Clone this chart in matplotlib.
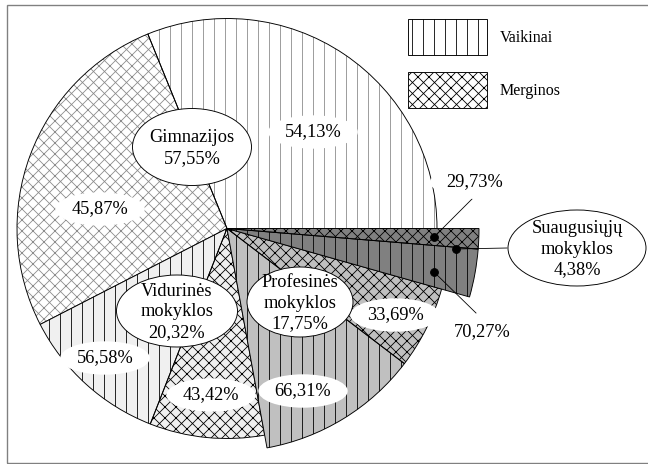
import matplotlib
matplotlib.use("Agg")
import matplotlib.pyplot as plt
from matplotlib.patches import Ellipse, Rectangle, Patch

# ---- data ----
categories = ["Gimnazijos", "Vidurinės mokyklos", "Profesinės mokyklos", "Suaugusiųjų mokyklos"]
category_labels = ["Gimnazijos", "Vidurinės\nmokyklos", "Profesinės\nmokyklos", "Suaugusiųjų\nmokyklos"]
category_share = [57.55, 20.32, 17.75, 4.38]
vaikinai_share = [54.13, 56.58, 66.31, 70.27]
merginos_share = [45.87, 43.42, 33.69, 29.73]
series_names = ["Vaikinai", "Merginos"]


def fmt(v):
    return f"{v:.2f}".replace(".", ",") + "%"


plt.rcParams['font.family'] = ['Liberation Serif', 'DejaVu Serif']
plt.rcParams['hatch.linewidth'] = 0.9

W, H = 648, 464
DPI = 66
fig = plt.figure(figsize=(W / DPI, H / DPI), dpi=DPI)
ax = fig.add_axes([0, 0, 1, 1])


def P(x, y):
    return (x, H - y)


# ---- styles ----
fills = ['white', '#f0f0f0', '#c0c0c0', '#808080']
hatch_cols = ['#8c8c8c', 'black', 'black', 'black']
radii = [210, 210, 223, 252]
center = P(227, 228.5)
HATCH_V, HATCH_M = '|', 'xx'

start = 0.0
for i in range(len(categories)):
    s = category_share[i] / 100
    vals = [s * vaikinai_share[i] / 100, s * merginos_share[i] / 100]
    wedges, _ = ax.pie(vals, normalize=False, startangle=start, radius=radii[i],
                       center=center, colors=[fills[i]] * 2,
                       wedgeprops=dict(edgecolor=hatch_cols[i], linewidth=0))
    for w, h in zip(wedges, [HATCH_V, HATCH_M]):
        w.set_hatch(h)
    ax.pie(vals, normalize=False, startangle=start, radius=radii[i], center=center,
           wedgeprops=dict(fill=False, edgecolor='black', linewidth=1.0))
    start += 360 * s

FS = 20

# percentage labels
pct_pos_v = [P(313, 132), P(105, 358), P(303, 391), P(482, 332)]
pct_pos_m = [P(100, 209), P(211, 395), P(395, 315), P(475, 182)]
for i in range(len(categories)):
    for val, pos in ((vaikinai_share[i], pct_pos_v[i]), (merginos_share[i], pct_pos_m[i])):
        ax.text(pos[0], pos[1], fmt(val), ha='center', va='center', fontsize=FS,
                bbox=dict(boxstyle='ellipse,pad=0.18', facecolor='white', edgecolor='none'),
                zorder=6)

# leader lines with dots
leaders = [((434, 237), (472, 199)), ((456, 249), (507, 248)), ((434, 272), (476, 313))]
for (x0, y0), (x1, y1) in leaders:
    a, b = P(x0, y0), P(x1, y1)
    ax.plot([a[0], b[0]], [a[1], b[1]], color='black', lw=0.9, zorder=5)
    ax.plot([a[0]], [a[1]], 'o', color='black', ms=8.5, zorder=5)

# category ellipses
cat_pos = [(192, 147, 119, 77), (177, 311, 121, 72), (300, 302, 106, 70), (577, 248, 138, 76)]
for i, (x, y, w, h) in enumerate(cat_pos):
    c = P(x, y)
    ax.add_patch(Ellipse(c, w, h, facecolor='white', edgecolor='black', lw=1.0, zorder=7))
    ax.text(c[0], c[1] - 1, category_labels[i] + "\n" + fmt(category_share[i]),
            ha='center', va='center', fontsize=FS, linespacing=1.25, zorder=8)

# legend
handles = [Patch(facecolor='white', edgecolor='black', hatch=HATCH_V, lw=1.0),
           Patch(facecolor='white', edgecolor='black', hatch=HATCH_M, lw=1.0)]
LFS = 17.5
em = LFS * DPI / 72
hh = (36 / em - 0.245) / 0.65
ax.legend(handles, series_names, loc='upper left',
          bbox_to_anchor=(408 / W, 1 - 19 / H), bbox_transform=fig.transFigure,
          frameon=False, borderpad=0, borderaxespad=0, fontsize=LFS,
          handlelength=79 / em, handleheight=hh, labelspacing=17 / em,
          handletextpad=13 / em)

# outer frame
ax.add_patch(Rectangle(P(7, 463), 700, 458, fill=False, edgecolor='#808080', lw=1.5,
                       zorder=10, clip_on=False))

ax.set_xlim(0, W)
ax.set_ylim(0, H)
ax.set_aspect('equal')
ax.axis('off')
fig.savefig('out.png', dpi=DPI)
